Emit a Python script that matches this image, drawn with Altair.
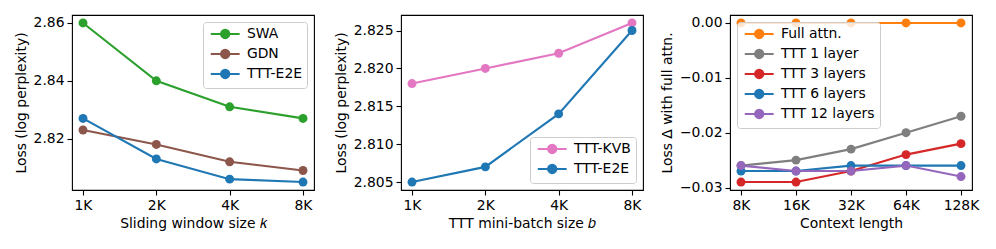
import altair as alt
import pandas as pd

# ---------------- data ----------------
win_labels = ["1K", "2K", "4K", "8K"]
win_series = ["SWA", "GDN", "TTT-E2E"]
swa = [2.860, 2.840, 2.831, 2.827]
gdn = [2.823, 2.818, 2.812, 2.809]
e2e_k = [2.827, 2.813, 2.806, 2.805]

mb_labels = ["1K", "2K", "4K", "8K"]
mb_series = ["TTT-KVB", "TTT-E2E"]
kvb = [2.818, 2.820, 2.822, 2.826]
e2e_b = [2.805, 2.807, 2.814, 2.825]

ctx_labels = ["8K", "16K", "32K", "64K", "128K"]
ctx_series = ["Full attn.", "TTT 1 layer", "TTT 3 layers", "TTT 6 layers", "TTT 12 layers"]
full_attn = [0.0, 0.0, 0.0, 0.0, 0.0]
ttt1 = [-0.026, -0.025, -0.023, -0.020, -0.017]
ttt3 = [-0.029, -0.029, -0.027, -0.024, -0.022]
ttt6 = [-0.027, -0.027, -0.026, -0.026, -0.026]
ttt12 = [-0.026, -0.027, -0.027, -0.026, -0.028]

win_colors = ["#2ca02c", "#8c564b", "#1f77b4"]
mb_colors = ["#e377c2", "#1f77b4"]
ctx_colors = ["#ff7f0e", "#7f7f7f", "#d62728", "#1f77b4", "#9467bd"]

FONT = "DejaVu Sans"
FS = 13.9
SYMBOL = "M-1,0H5.9M3.45,0A1,1,0,1,1,1.45,0A1,1,0,1,1,3.45,0Z"


def make_df(labels, names, values):
    rows = []
    for name, vals in zip(names, values):
        for i, v in enumerate(vals):
            rows.append({"idx": i, "series": name, "value": v})
    return pd.DataFrame(rows)


def panel(df, labels, names, colors, ydomain, yticks, yfmt, ytitle, xtitle, orient):
    n = len(labels)
    pad = 0.05 * (n - 1)
    label_expr = "[" + ",".join("'%s'" % l for l in labels) + "][datum.value]"
    x = alt.X(
        "idx:Q",
        scale=alt.Scale(domain=[-pad, n - 1 + pad], nice=False, zero=False),
        axis=alt.Axis(values=list(range(n)), labelExpr=label_expr, title=xtitle),
    )
    y = alt.Y(
        "value:Q",
        scale=alt.Scale(domain=ydomain, nice=False, zero=False),
        axis=alt.Axis(values=yticks, format=yfmt, title=ytitle),
    )
    legend = alt.Legend(
        title=None,
        orient=orient,
        offset=7,
        symbolType=SYMBOL,
        symbolSize=70,
        symbolStrokeWidth=2,
        labelOffset=25,
        labelFont=FONT,
        labelFontSize=FS,
        labelColor="black",
        padding=5,
        rowPadding=2,
        strokeColor="#cccccc",
        fillColor="rgba(255,255,255,0.8)",
        cornerRadius=3,
    )
    color = alt.Color(
        "series:N",
        sort=names,
        scale=alt.Scale(domain=names, range=colors),
        legend=legend,
    )
    base = alt.Chart(df).encode(x=x, y=y, color=color)
    lines = base.mark_line(strokeWidth=2.1)
    pts = base.mark_point(filled=True, size=80, opacity=1)
    return alt.layer(lines, pts).properties(width=242, height=175)


df1 = make_df(win_labels, win_series, [swa, gdn, e2e_k])
df2 = make_df(mb_labels, mb_series, [kvb, e2e_b])
df3 = make_df(ctx_labels, ctx_series, [full_attn, ttt1, ttt3, ttt6, ttt12])

p1 = panel(df1, win_labels, win_series, win_colors,
           [2.80225, 2.86275], [2.82, 2.84, 2.86], ".2f",
           "Loss (log perplexity)", "Sliding window size \U0001D458", "top-right")
p2 = panel(df2, mb_labels, mb_series, mb_colors,
           [2.80395, 2.82705], [2.805, 2.81, 2.815, 2.82, 2.825], ".3f",
           "Loss (log perplexity)", "TTT mini-batch size \U0001D44F", "bottom-right")
p3 = panel(df3, ctx_labels, ctx_series, ctx_colors,
           [-0.03045, 0.00145], [-0.03, -0.02, -0.01, 0.0], ".2f",
           "Loss \u0394 with full attn.", "Context length", "top-left")

chart = (
    alt.hconcat(p1, p2, p3, spacing=87, bounds="flush")
    .resolve_scale(color="independent")
    .resolve_legend(color="independent")
    .properties(padding={"left": 5, "top": 6, "right": 5, "bottom": 5})
    .configure_view(stroke="black", strokeWidth=1.1)
    .configure_axis(
        domain=False,
        grid=False,
        ticks=True,
        tickColor="black",
        tickWidth=1.1,
        tickSize=5,
        labelPadding=3,
        labelFont=FONT,
        labelFontSize=FS,
        labelColor="black",
        titleFont=FONT,
        titleFontSize=FS,
        titleFontWeight="normal",
        titleColor="black",
        titlePadding=5,
        labelFlush=False,
        labelOverlap=False,
    )
)

chart.save("out.html", embed_options={"renderer": "svg", "actions": False})
